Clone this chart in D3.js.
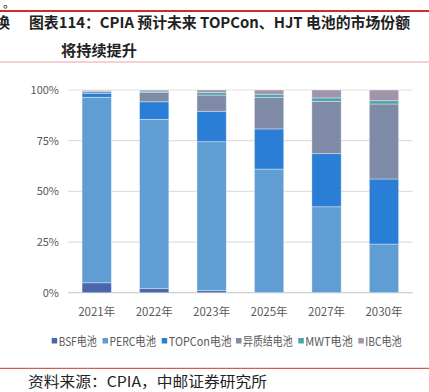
<!DOCTYPE html>
<html><head><meta charset="utf-8">
<script src="https://cdn.jsdelivr.net/npm/d3@7"></script>
<style>html,body{margin:0;padding:0;background:#fff;overflow:hidden}</style>
</head><body>
<svg id="c" width="429" height="392"></svg>
<script>
const categories = ["2021年","2022年","2023年","2025年","2027年","2030年"];
const seriesNames = ["BSF电池","PERC电池","TOPCon电池","异质结电池","MWT电池","IBC电池"];
const bsf    = [4.9, 2.0, 1.0, 0, 0, 0];
const perc   = [91.5, 83.5, 73.5, 61.0, 42.4, 24.0];
const topcon = [2.0, 8.7, 15.0, 19.8, 26.2, 32.1];
const hetero = [0.9, 4.7, 8.0, 15.6, 25.8, 37.0];
const mwt    = [0.4, 0.6, 1.2, 1.5, 1.7, 1.6];
const ibc    = [0.3, 0.5, 1.3, 2.1, 3.9, 5.3];
const yTicks = [0, 25, 50, 75, 100];
const colors = ["#4a66ae","#5f9dd3","#2a7ed6","#7f8ba6","#4ba3ad","#a194a8"];

const svg = d3.select("#c");
const cjk = "'Noto Sans CJK SC','Noto Sans',sans-serif";

// header
svg.append("text").attr("x",3).attr("y",8).attr("font-family",cjk).attr("font-size",12).attr("fill","#222").text("。");
svg.append("rect").attr("x",0).attr("y",10).attr("width",429).attr("height",2).attr("fill","#cf2a2f");
svg.append("text").attr("x",-5).attr("y",28).attr("font-family",cjk).attr("font-weight",700).attr("font-size",15).attr("fill","#222").text("换");
svg.append("text").attr("x",29).attr("y",28).attr("font-family",cjk).attr("font-weight",700).attr("font-size",15).attr("fill","#222")
  .attr("textLength",381).attr("lengthAdjust","spacingAndGlyphs").text("图表114：CPIA 预计未来 TOPCon、HJT 电池的市场份额");
svg.append("text").attr("x",61).attr("y",56).attr("font-family",cjk).attr("font-weight",700).attr("font-size",15).attr("fill","#222")
  .attr("textLength",76).attr("lengthAdjust","spacingAndGlyphs").text("将持续提升");
svg.append("rect").attr("x",0).attr("y",61.5).attr("width",429).attr("height",1).attr("fill","#e7a3a3");

// chart
const x = d3.scaleBand().domain(categories).range([68, 412.7]).paddingInner(0.49).paddingOuter(0.245);
const y = d3.scaleLinear().domain([0,100]).range([292.7, 90]);

const g = svg.append("g");
g.selectAll("line.grid").data(yTicks).join("line")
  .attr("x1",68).attr("x2",412.7).attr("y1",d=>y(d)).attr("y2",d=>y(d))
  .attr("stroke",d=>d===0?"#d0d0d0":"#e0e0e0").attr("stroke-width",1.2);

const yAxis = d3.axisLeft(y).tickValues(yTicks).tickFormat(d=>d+"%").tickSize(0).tickPadding(0);
const ya = g.append("g").attr("transform","translate(59,0)").call(yAxis);
ya.select(".domain").remove();
ya.selectAll("text").attr("font-family",cjk).attr("font-size",11).attr("fill","#595959");

const rows = categories.map((c,i)=>({cat:c, s0:bsf[i], s1:perc[i], s2:topcon[i], s3:hetero[i], s4:mwt[i], s5:ibc[i]}));
const stack = d3.stack().keys(["s0","s1","s2","s3","s4","s5"])(rows);
stack.forEach((layer,k)=>{
  g.append("g").selectAll("rect").data(layer.filter(d=>d[1]-d[0]>0)).join("rect")
    .attr("x",d=>x(d.data.cat)).attr("width",x.bandwidth())
    .attr("y",d=>y(d[1])).attr("height",d=>y(d[0])-y(d[1]))
    .attr("fill",colors[k]).attr("stroke","rgba(255,255,255,0.45)").attr("stroke-width",0.8);
});

const xAxis = d3.axisBottom(x).tickSize(0).tickPadding(0);
const xa = g.append("g").attr("transform","translate(0,316)").call(xAxis);
xa.select(".domain").remove();
xa.selectAll("text").attr("font-family",cjk).attr("font-size",11.5).attr("fill","#595959").attr("dy","0");

// legend
const legendX = [51.7, 102.5, 161.7, 236, 298.3, 358.3];
const legendEndX = [96.7, 156, 231.7, 292.7, 352.7, 401.7];
const lg = svg.append("g");
seriesNames.forEach((n,i)=>{
  lg.append("rect").attr("x",legendX[i]).attr("y",338).attr("width",5.5).attr("height",5.5).attr("fill",colors[i]);
  lg.append("text").attr("x",legendX[i]+7).attr("y",345.5).attr("font-family",cjk).attr("font-size",12).attr("fill","#595959")
    .attr("textLength",legendEndX[i]-(legendX[i]+7)).attr("lengthAdjust","spacingAndGlyphs").text(n);
});

// footer
svg.append("rect").attr("x",0).attr("y",367.8).attr("width",429).attr("height",1).attr("fill","#c0392b");
svg.append("text").attr("x",28).attr("y",387).attr("font-family",cjk).attr("font-size",14.5).attr("fill","#222")
  .attr("textLength",239).attr("lengthAdjust","spacingAndGlyphs").text("资料来源：CPIA，中邮证券研究所");
</script>
</body></html>
